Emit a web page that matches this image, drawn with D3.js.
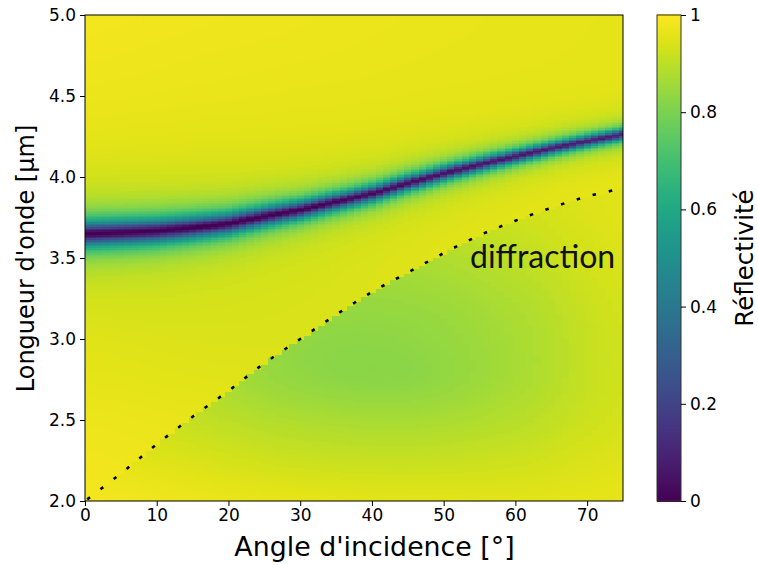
<!DOCTYPE html>
<html><head><meta charset="utf-8">
<script src="https://cdn.jsdelivr.net/npm/d3@7"></script>
<style>body{margin:0;background:#fff}svg{display:block}</style>
</head><body>
<svg id="chart" width="758" height="565"></svg>
<script>
// ---------- data ----------
const xTicks = [0, 10, 20, 30, 40, 50, 60, 70];
const yTicks = [2.0, 2.5, 3.0, 3.5, 4.0, 4.5, 5.0];
const cbTicks = [0, 0.2, 0.4, 0.6, 0.8, 1];
const cbTickLabels = ["0", "0.2", "0.4", "0.6", "0.8", "1"];

// resonance (dark band): centre wavelength, half-width, depth
const resAngles = [0, 5, 10, 15, 20, 25, 30, 35, 40, 45, 50, 55, 60, 65, 70, 75];
const resCenter = [3.652, 3.66, 3.67, 3.69, 3.715, 3.76, 3.80, 3.85, 3.90, 3.965, 4.025, 4.08, 4.13, 4.18, 4.225, 4.265];
const resWidth  = [0.066, 0.065, 0.063, 0.060, 0.056, 0.052, 0.048, 0.045, 0.043, 0.041, 0.039, 0.037, 0.035, 0.033, 0.032, 0.031];
const resDepth  = [1.0, 1.0, 1.0, 1.0, 1.0, 1.0, 1.0, 0.99, 0.98, 0.97, 0.96, 0.95, 0.94, 0.93, 0.92, 0.91];

// diffraction threshold (dotted line)
const diffAngles = [0, 5, 10, 15, 20, 25, 30, 35, 40, 45, 50, 55, 60, 65, 70, 75];
const diffWavelength = [2.00, 2.17, 2.35, 2.52, 2.68, 2.85, 3.00, 3.15, 3.29, 3.41, 3.53, 3.64, 3.73, 3.81, 3.88, 3.93];

// smooth background reflectivity, coarse grid (rows = wavelength, cols = angle)
const bgAngles = [0, 15, 30, 45, 60, 75];
const bgWavelengths = [2.0, 2.25, 2.5, 2.75, 3.0, 3.25, 3.5, 3.75, 4.0, 4.25, 4.5, 4.75, 5.0];
// below the diffraction line (diffracting region)
const bgBelow = [
  [0.985, 0.972, 0.962, 0.955, 0.955, 0.962],
  [0.965, 0.945, 0.922, 0.915, 0.925, 0.950],
  [0.945, 0.912, 0.880, 0.870, 0.892, 0.935],
  [0.925, 0.888, 0.840, 0.830, 0.870, 0.928],
  [0.915, 0.880, 0.838, 0.835, 0.870, 0.928],
  [0.915, 0.888, 0.858, 0.852, 0.882, 0.935],
  [0.925, 0.905, 0.885, 0.880, 0.905, 0.945],
  [0.940, 0.930, 0.915, 0.915, 0.930, 0.955],
  [0.950, 0.945, 0.940, 0.940, 0.950, 0.960],
  [0.960, 0.955, 0.950, 0.950, 0.955, 0.962],
  [0.965, 0.960, 0.955, 0.955, 0.958, 0.962],
  [0.970, 0.965, 0.960, 0.960, 0.960, 0.962],
  [0.975, 0.970, 0.965, 0.962, 0.962, 0.962]
];
// above the diffraction line (specular only)
const bgAbove = [
  [0.985, 0.980, 0.975, 0.970, 0.970, 0.970],
  [0.980, 0.975, 0.970, 0.965, 0.965, 0.968],
  [0.975, 0.968, 0.962, 0.960, 0.962, 0.966],
  [0.965, 0.958, 0.952, 0.955, 0.960, 0.965],
  [0.960, 0.952, 0.948, 0.952, 0.958, 0.965],
  [0.955, 0.950, 0.948, 0.952, 0.958, 0.965],
  [0.955, 0.952, 0.950, 0.955, 0.960, 0.966],
  [0.958, 0.955, 0.955, 0.958, 0.962, 0.967],
  [0.962, 0.960, 0.960, 0.962, 0.965, 0.968],
  [0.970, 0.966, 0.964, 0.964, 0.965, 0.966],
  [0.976, 0.972, 0.968, 0.966, 0.965, 0.965],
  [0.981, 0.976, 0.972, 0.968, 0.965, 0.963],
  [0.985, 0.980, 0.975, 0.970, 0.965, 0.962]
];

// ---------- layout ----------
const svg = d3.select("#chart");
const M = {left: 85, right: 623, top: 15, bottom: 501};
const cb = {left: 657, right: 681};
const FONT = "'DejaVu Sans', sans-serif";

const x = d3.scaleLinear().domain([0, 75]).range([M.left, M.right]);
const y = d3.scaleLinear().domain([2, 5]).range([M.bottom, M.top]);
const color = d3.scaleSequential(d3.interpolateViridis).domain([0, 1]);

// cubic (Catmull-Rom) interpolation on an evenly spaced array
function cr(arr, t) {
  const n = arr.length - 1;
  const f = Math.max(0, Math.min(n, t * n));
  const i = Math.min(n - 1, Math.floor(f));
  const u = f - i;
  const p0 = arr[Math.max(0, i - 1)], p1 = arr[i], p2 = arr[i + 1], p3 = arr[Math.min(n, i + 2)];
  return 0.5 * ((2 * p1) + (-p0 + p2) * u + (2 * p0 - 5 * p1 + 4 * p2 - p3) * u * u + (-p0 + 3 * p1 - 3 * p2 + p3) * u * u * u);
}
const tA = d3.scaleLinear().domain(d3.extent(bgAngles)).range([0, 1]).clamp(true);
const tW = d3.scaleLinear().domain(d3.extent(bgWavelengths)).range([0, 1]).clamp(true);
function grid(g, a, w) {
  const col = g.map(row => cr(row, tA(a)));
  return cr(col, tW(w));
}
const resC = d3.scaleLinear().domain(resAngles).range(resCenter);
const resW = d3.scaleLinear().domain(resAngles).range(resWidth);
const resD = d3.scaleLinear().domain(resAngles).range(resDepth);
const diffL = d3.scaleLinear().domain(diffAngles).range(diffWavelength);

function reflect(a, w) {
  const bg = w < diffL(a) ? grid(bgBelow, a, w) : grid(bgAbove, a, w);
  const d = (w - resC(a)) / resW(a);
  return Math.max(0, Math.min(1, bg * (1 - resD(a) / (1 + d * d))));
}

// ---------- heatmap ----------
svg.append("clipPath").attr("id", "plotclip").append("rect")
  .attr("x", M.left).attr("y", M.top).attr("width", M.right - M.left).attr("height", M.bottom - M.top);

const angles = d3.range(0, 76, 1);
const wls = d3.range(0, 301).map(k => 2 + k * 0.01);
const cells = [];
angles.forEach(a => wls.forEach(w => cells.push({a, w, v: reflect(a, w)})));

const cw = x(1) - x(0), ch = y(2) - y(2.01);
svg.append("g").attr("clip-path", "url(#plotclip)")
  .selectAll("rect").data(cells).join("rect")
  .attr("x", d => x(d.a - 0.5))
  .attr("y", d => y(d.w + 0.005))
  .attr("width", cw + 0.6)
  .attr("height", ch + 0.6)
  .attr("fill", d => color(d.v))
  .attr("shape-rendering", "crispEdges");

// ---------- diffraction line ----------
const diffPts = diffAngles.map((a, i) => [a, diffWavelength[i]]);
svg.append("path")
  .attr("clip-path", "url(#plotclip)")
  .attr("d", d3.line().x(d => x(d[0])).y(d => y(d[1])).curve(d3.curveCatmullRom)(diffPts))
  .attr("fill", "none").attr("stroke", "#000").attr("stroke-width", 2.6)
  .attr("stroke-dasharray", "3.5,13")
  .attr("stroke-dashoffset", -3);

svg.append("text").attr("x", 470).attr("y", 268)
  .attr("font-family", "Lato, 'Open Sans', sans-serif").attr("font-size", 32)
  .attr("fill", "#111").text("diffraction");

// ---------- axes ----------
const xAxis = svg.append("g").attr("transform", `translate(0,${M.bottom})`)
  .call(d3.axisBottom(x).tickValues(xTicks).tickSize(5).tickPadding(3).tickFormat(d3.format("d")));
const yAxis = svg.append("g").attr("transform", `translate(${M.left},0)`)
  .call(d3.axisLeft(y).tickValues(yTicks).tickSize(5).tickPadding(4).tickFormat(d3.format(".1f")));
[xAxis, yAxis].forEach(g => {
  g.select(".domain").remove();
  g.selectAll("text").attr("font-family", FONT).attr("font-size", 17).attr("fill", "#000");
  g.selectAll("line").attr("stroke", "#000");
});
svg.append("rect").attr("x", M.left).attr("y", M.top)
  .attr("width", M.right - M.left).attr("height", M.bottom - M.top)
  .attr("fill", "none").attr("stroke", "#000").attr("stroke-width", 1);

svg.append("text").attr("x", 374.5).attr("y", 556)
  .attr("text-anchor", "middle").attr("font-family", FONT).attr("font-size", 26.8).text("Angle d'incidence [°]");
svg.append("text").attr("transform", `translate(34,258.5) rotate(-90)`)
  .attr("text-anchor", "middle").attr("font-family", FONT).attr("font-size", 24).text("Longueur d'onde [µm]");

// ---------- colorbar ----------
const cy = d3.scaleLinear().domain([0, 1]).range([M.bottom, M.top]);
const cbVals = d3.range(0, 1.0001, 0.002);
svg.append("g").selectAll("rect").data(cbVals).join("rect")
  .attr("x", cb.left).attr("width", cb.right - cb.left)
  .attr("y", d => cy(d + 0.002)).attr("height", cy(0) - cy(0.002) + 0.5)
  .attr("fill", d => color(d)).attr("shape-rendering", "crispEdges");
svg.append("rect").attr("x", cb.left).attr("y", M.top)
  .attr("width", cb.right - cb.left).attr("height", M.bottom - M.top)
  .attr("fill", "none").attr("stroke", "#333").attr("stroke-width", 1);
const cbAxis = svg.append("g").attr("transform", `translate(${cb.right},0)`)
  .call(d3.axisRight(cy).tickValues(cbTicks).tickSize(5).tickPadding(4).tickFormat((d, i) => cbTickLabels[i]));
cbAxis.select(".domain").remove();
cbAxis.selectAll("text").attr("font-family", FONT).attr("font-size", 17).attr("fill", "#000");
cbAxis.selectAll("line").attr("stroke", "#000");
svg.append("text").attr("transform", `translate(753,258) rotate(-90)`)
  .attr("text-anchor", "middle").attr("font-family", FONT).attr("font-size", 24.5).text("Réflectivité");
</script>
</body></html>
